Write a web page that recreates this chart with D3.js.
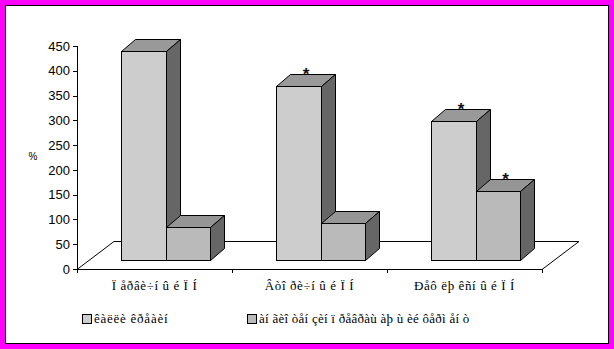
<!DOCTYPE html>
<html>
<head>
<meta charset="utf-8">
<script src="https://cdn.jsdelivr.net/npm/d3@7"></script>
<style>
  body { margin: 0; background: #ff00ff; }
  svg { display: block; }
  .axis text { font-family: Arial, "Liberation Sans", sans-serif; font-size: 13px; fill: #000; }
  .axis path, .axis line { stroke: #000; shape-rendering: crispEdges; }
  .cat, .legend text { font-family: "Liberation Serif", "Times New Roman", serif; font-size: 13px; fill: #000;
    white-space: pre; }
  .cat { letter-spacing: 0.6px; }
</style>
</head>
<body>
<svg id="chart" width="614" height="349"></svg>
<script>
var categories = ['Ï åðâè÷í û é Ï Í', 'Âòî ðè÷í û é Ï Í', 'Ðåô ëþ êñí û é Ï Í'];
var seriesNames = ['êàëëè êðåàèí', 'àí ãèî òåí çèí ï ðåâðàù àþ ù èé ôåðì åí ò'];
var series1 = [422, 351, 280];
var series2 = [66, 75, 139];
var stars1 = [false, true, true];
var stars2 = [false, false, true];
var yTicks = [0, 50, 100, 150, 200, 250, 300, 350, 400, 450];

var svg = d3.select('#chart');

// white plot area with black frame inside the magenta border
svg.append('rect')
  .attr('x', 5.5).attr('y', 5.5)
  .attr('width', 603).attr('height', 338)
  .attr('fill', '#fff')
  .attr('stroke', '#000');

var plotLeft = 77, plotRight = 542, plotTop = 46, plotBottom = 269;
var floorDepth = { dx: 37, dy: -28 };
var frontOff = { dx: 11, dy: -9 };
var barDepth = { dx: 14, dy: -12 };

var x0 = d3.scaleBand().domain(categories).range([plotLeft, plotRight]);
var x1 = d3.scaleBand().domain([0, 1]).range([0, x0.bandwidth()]).paddingOuter(0.74);
var y = d3.scaleLinear().domain([0, 450]).range([plotBottom, plotTop]);

var colors = [
  { front: '#cdcdcd', top: '#999999', side: '#666666' },
  { front: '#bababa', top: '#959595', side: '#666666' }
];

// floor
svg.append('path')
  .attr('d', 'M' + plotLeft + ',' + (plotBottom + 0.5) +
    'L' + (plotLeft + floorDepth.dx) + ',' + (plotBottom + floorDepth.dy + 0.5) +
    'L' + (plotRight + floorDepth.dx) + ',' + (plotBottom + floorDepth.dy + 0.5) +
    'L' + plotRight + ',' + (plotBottom + 0.5))
  .attr('fill', '#fff')
  .attr('stroke', '#000')
  .attr('stroke-width', 1);

// bars
var rows = [];
categories.forEach(function (c, i) {
  rows.push({ cat: c, s: 0, v: series1[i], star: stars1[i] });
  rows.push({ cat: c, s: 1, v: series2[i], star: stars2[i] });
});

var bars = svg.append('g').attr('class', 'bars');
rows.forEach(function (d) {
  var xl = Math.round(x0(d.cat) + x1(d.s) + frontOff.dx) + 0.5;
  var xr = Math.round(x0(d.cat) + x1(d.s) + frontOff.dx + x1.bandwidth()) + 0.5;
  var yb = Math.round(y(0) + frontOff.dy) + 0.5;
  var yt = Math.round(y(d.v) + frontOff.dy) + 0.5;
  var col = colors[d.s];
  var g = bars.append('g');

  g.append('path')
    .attr('d', 'M' + xl + ',' + yt + 'L' + (xl + barDepth.dx) + ',' + (yt + barDepth.dy) +
      'L' + (xr + barDepth.dx) + ',' + (yt + barDepth.dy) + 'L' + xr + ',' + yt + 'Z')
    .attr('fill', col.top).attr('stroke', '#000').attr('stroke-linejoin', 'round');

  g.append('path')
    .attr('d', 'M' + xr + ',' + yt + 'L' + (xr + barDepth.dx) + ',' + (yt + barDepth.dy) +
      'L' + (xr + barDepth.dx) + ',' + (yb + barDepth.dy) + 'L' + xr + ',' + yb + 'Z')
    .attr('fill', col.side).attr('stroke', '#000').attr('stroke-linejoin', 'round');

  g.append('rect')
    .attr('x', xl).attr('y', yt)
    .attr('width', xr - xl).attr('height', yb - yt)
    .attr('fill', col.front).attr('stroke', '#000');

  if (d.star) {
    g.append('text')
      .attr('x', (xl + xr) / 2 + barDepth.dx / 2)
      .attr('y', yt + barDepth.dy + 5)
      .attr('text-anchor', 'middle')
      .attr('font-family', 'Arial, sans-serif')
      .attr('font-weight', 'bold')
      .attr('font-size', 17)
      .attr('fill', '#111')
      .text('*');
  }
});

// value axis
svg.append('g')
  .attr('class', 'axis')
  .attr('transform', 'translate(' + plotLeft + ',0)')
  .call(d3.axisLeft(y).tickValues(yTicks).tickSize(4).tickPadding(3).tickSizeOuter(4));

svg.append('text')
  .attr('x', 33).attr('y', 160)
  .attr('text-anchor', 'middle')
  .attr('font-family', 'Arial, sans-serif')
  .attr('font-size', 10)
  .text('%');

// category axis
var xb = d3.scaleLinear().domain([0, categories.length]).range([plotLeft, plotRight]);
svg.append('g')
  .attr('class', 'axis')
  .attr('transform', 'translate(0,' + plotBottom + ')')
  .call(d3.axisBottom(xb).tickValues(d3.range(categories.length + 1)).tickSize(4).tickSizeOuter(0).tickFormat(''));

svg.append('g').selectAll('text')
  .data(categories)
  .enter()
  .append('text')
  .attr('class', 'cat')
  .attr('x', function (d) { return x0(d) + x0.bandwidth() / 2; })
  .attr('y', 290)
  .attr('text-anchor', 'middle')
  .text(function (d) { return d; });

// legend
var legendX = [82, 247];
var legendSpacing = [0.75, 0.25];
var legend = svg.append('g').attr('class', 'legend');
seriesNames.forEach(function (name, i) {
  legend.append('rect')
    .attr('x', legendX[i] + 0.5).attr('y', 314.5)
    .attr('width', 9).attr('height', 9)
    .attr('fill', colors[i].front)
    .attr('stroke', '#000');
  legend.append('text')
    .attr('x', legendX[i] + 12)
    .attr('y', 323)
    .attr('letter-spacing', legendSpacing[i])
    .text(name);
});
</script>
</body>
</html>
